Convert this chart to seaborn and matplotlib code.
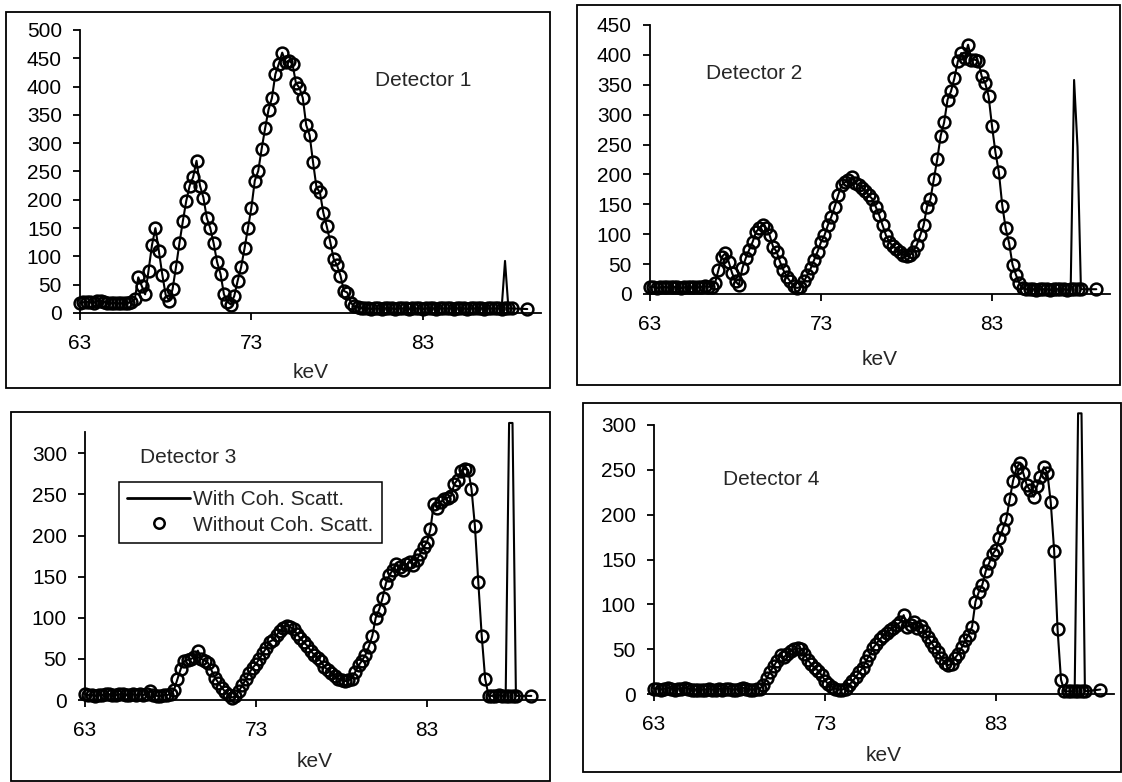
import numpy as np
import pandas as pd
import matplotlib
matplotlib.use("Agg")
import matplotlib.pyplot as plt
from matplotlib.patches import Rectangle
from matplotlib.lines import Line2D
import seaborn as sns

W, H = 1122, 782

# energy channels (keV): 0.2 keV bins 63.0 .. 88.2, plus the last channel
energy = [round(63 + 0.2 * i, 1) for i in range(127)] + [89.1]

# counts without coherent scattering
det1_counts = [
    18, 19, 20, 19, 18, 21, 22, 20, 18, 17, 18, 17, 17, 18, 18, 19,
    25, 63, 48, 33, 75, 120, 150, 110, 68, 32, 22,
    42, 81, 123, 162, 198, 225, 240, 269, 225, 204, 168, 150, 123, 90, 69, 33, 20, 15,
    30, 57, 81, 114, 150, 186, 234, 251, 290, 326, 359, 380, 422, 440, 460, 443, 446, 440, 406, 398,
    380, 332, 314, 266, 222, 213, 177, 153, 126, 96, 84, 66, 39, 36, 18, 12, 10,
    9, 8, 8, 7, 8, 8, 7, 8, 8, 8, 7, 8, 8, 8, 7, 8, 8, 8, 7, 8,
    8, 8, 7, 8, 8, 8, 8, 7, 8, 8, 8, 7, 8, 8, 8, 8, 7, 8, 8, 8,
    8, 7, 8, 8, 8,
    7,
]
det2_counts = [
    11, 12, 10, 11, 12, 11, 12, 12, 11, 10, 11, 12, 11, 12, 11, 12, 13, 12, 12,
    18, 40, 62, 68, 54, 35, 21, 15, 43, 60, 74, 87, 104, 110, 115, 110, 98, 79, 71, 54,
    40, 29, 21, 13, 10,
    12, 21, 32, 43, 57, 71, 87, 98, 115, 129, 146, 165, 182, 187, 190, 195, 185, 182, 178, 173,
    165, 159, 146, 132, 115, 98, 87, 80, 76, 70, 66, 63,
    65, 71, 82, 98, 115, 146, 159, 193, 226, 265, 287, 325, 339, 361, 389, 403, 395, 417, 392, 392,
    389, 364, 353, 331, 281, 237, 204, 148, 110, 85, 49, 32, 18, 10,
    8, 8, 8, 7, 8, 8, 8, 7, 8, 8, 8, 8, 7, 8, 8, 8, 8,
    8,
]
det3_counts = [
    7, 6, 6, 5, 6, 6, 7, 7, 6, 6, 7, 7, 6, 6, 7, 6, 7, 6, 7, 11,
    6, 5, 5, 6, 6, 7,
    12, 25, 38, 47, 49, 50, 52, 60, 50, 48, 45, 36, 27, 21, 15, 10, 6, 3, 5, 11,
    18, 25, 33, 39, 44, 50, 57, 63, 71, 73, 79, 84, 88,
    90, 89, 86, 80, 75, 70, 66, 60, 55, 51, 47, 40, 37, 33, 29, 26, 24, 23, 24, 26,
    34, 42, 48, 55, 65, 78, 100, 110, 124, 142, 152, 158,
    166, 162, 158, 165, 168, 164, 170, 178, 186, 192, 208, 239, 233, 241, 244, 246, 248, 263, 268, 279,
    281, 280, 257, 212, 143, 78, 26, 5,
    5, 5, 6, 5, 5, 5, 5, 5,
    5,
]
det4_counts = [
    6, 6, 5, 6, 7, 6, 5, 6, 6, 7, 6, 5, 5, 4, 5, 5, 6, 5, 5, 6, 5, 6, 6, 5, 5, 6, 7, 6, 5, 5, 6, 6,
    10, 18, 25, 31, 37, 43, 41, 45, 48, 50, 51, 50, 45, 38, 33, 29, 26, 21, 15, 11, 8, 6, 5, 5, 6,
    10, 14, 19, 24, 29, 37, 43, 51, 56, 61, 65, 68, 71, 74, 77, 80, 88, 75, 77, 80,
    74, 76, 70, 64, 58, 52, 47, 40, 35, 32, 34,
    40, 45, 52, 60, 66, 75, 103, 114, 122, 137, 146, 156, 161, 174, 184, 195, 217, 238, 252, 258,
    246, 233, 227, 220, 232, 242, 253, 247, 214, 160, 72, 16, 3,
    3, 3, 3, 3, 3, 3,
    5,
]

# coherent-scatter peak, only present in the "with" spectra
spike_kev = [87.8, 88.0]
det1_spike = [92, 8]
det2_spike = [358, 246]
det3_spike = [337, 337]
det4_spike = [313, 313]

x_ticks = [63, 73, 83]

sns.set_style("ticks")
plt.rcParams["font.family"] = ["Liberation Sans", "DejaVu Sans"]

FS = 15


def px_rect(x0, y0, x1, y1):
    return [x0 / W, 1 - y1 / H, (x1 - x0) / W, (y1 - y0) / H]


panels = [
    dict(name="Detector 1", counts=det1_counts, spike=det1_spike,
         ax_px=(80, 30, 541, 313), ymax=500, ytop=500, box=(6, 12, 550, 388),
         text_xy=(0.64, 0.823), labelpad=7),
    dict(name="Detector 2", counts=det2_counts, spike=det2_spike,
         ax_px=(650, 25, 1110, 294), ymax=450, ytop=450, box=(577, 5, 1120, 385),
         text_xy=(0.122, 0.82), labelpad=12),
    dict(name="Detector 3", counts=det3_counts, spike=det3_spike,
         ax_px=(85, 432, 545, 700), ymax=326, ytop=300, box=(11, 412, 550, 781),
         text_xy=(0.12, 0.903), labelpad=9),
    dict(name="Detector 4", counts=det4_counts, spike=det4_spike,
         ax_px=(654, 425, 1114, 694), ymax=300, ytop=300, box=(583, 403, 1121, 772),
         text_xy=(0.15, 0.796), labelpad=9),
]

fig = plt.figure(figsize=(W / 100, H / 100), dpi=100)

for p in panels:
    x0, y0, x1, y1 = p["box"]
    fig.add_artist(Rectangle((x0 / W, 1 - y1 / H), (x1 - x0) / W, (y1 - y0) / H,
                             transform=fig.transFigure, fill=False,
                             edgecolor="black", linewidth=1.3))

    ax = fig.add_axes(px_rect(*p["ax_px"]))
    df = pd.DataFrame({"keV": energy, "without": p["counts"]})
    df["with"] = df["without"]
    for kev, val in zip(spike_kev, p["spike"]):
        df.loc[np.isclose(df["keV"], kev), "with"] = val

    sns.lineplot(data=df, x="keV", y="with", ax=ax, color="black", linewidth=1.5,
                 estimator=None, sort=False, clip_on=False)
    sns.lineplot(data=df, x="keV", y="without", ax=ax, color="black",
                 estimator=None, sort=False, linestyle="", marker="o",
                 markersize=8.5, markerfacecolor="none", markeredgecolor="black",
                 markeredgewidth=1.8, clip_on=False)

    ax.set_xlim(63, 89.9)
    ax.set_ylim(0, p["ymax"])
    ax.set_xticks(x_ticks)
    ax.set_yticks(list(range(0, p["ytop"] + 1, 50)))
    sns.despine(ax=ax)
    for s in ["left", "bottom"]:
        ax.spines[s].set_linewidth(1.3)
        ax.spines[s].set_color("black")
    ax.tick_params(axis="x", direction="out", length=5, width=1.3, pad=10,
                   labelsize=FS, colors="black")
    ax.tick_params(axis="y", direction="out", length=5, width=1.3, pad=8,
                   labelsize=FS, colors="black")
    ax.set_xlabel("keV", fontsize=FS, labelpad=p["labelpad"])
    ax.set_ylabel("")
    ax.set_facecolor("none")
    ax.text(p["text_xy"][0], p["text_xy"][1], p["name"], transform=ax.transAxes,
            ha="left", va="center", fontsize=FS)

    if p["name"] == "Detector 3":
        handles = [Line2D([], [], color="black", linewidth=2.0),
                   Line2D([], [], linestyle="", marker="o", markersize=7.5,
                          markerfacecolor="none", markeredgecolor="black",
                          markeredgewidth=1.8)]
        leg = ax.legend(handles, ["With Coh. Scatt.", "Without Coh. Scatt."],
                        loc="upper left", bbox_to_anchor=(0.074, 0.813),
                        frameon=True, fancybox=False, framealpha=1,
                        edgecolor="black", fontsize=FS, handlelength=3.0,
                        handletextpad=0.15, borderaxespad=0, borderpad=0.4,
                        labelspacing=0.3)
        leg.get_frame().set_linewidth(1.1)
    elif ax.get_legend() is not None:
        ax.get_legend().remove()

fig.savefig("out.png", dpi=100)
